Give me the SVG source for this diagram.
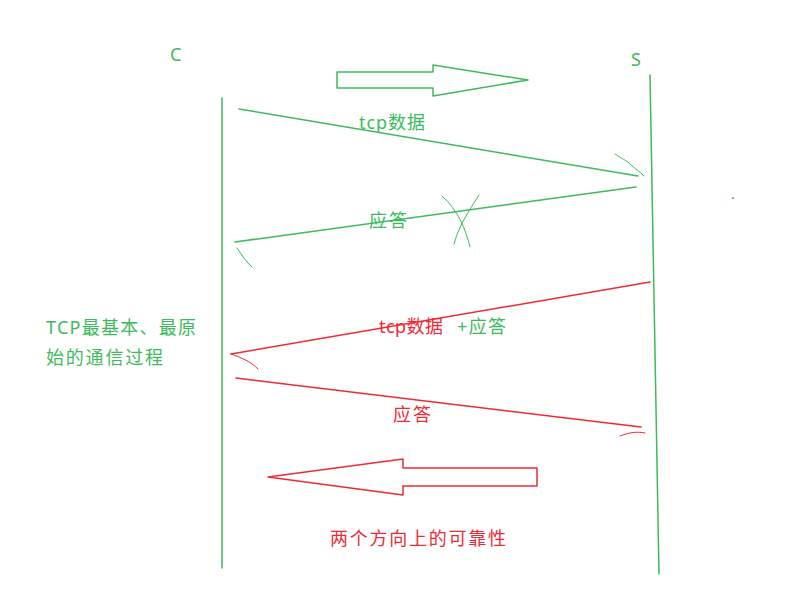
<svg xmlns="http://www.w3.org/2000/svg" width="799" height="614" viewBox="0 0 799 614">
<style>
.g{stroke:#3dba5c;fill:none;stroke-width:1.5;stroke-linecap:round;stroke-linejoin:round}
.r{stroke:#ee2a36;fill:none;stroke-width:1.5;stroke-linecap:round;stroke-linejoin:round}
.gt{fill:#3dba5c;font-family:"Microsoft YaHei","Noto Sans","Noto Sans CJK SC",sans-serif;font-size:18px}
.rt{fill:#ee2a36;font-family:"Microsoft YaHei","Noto Sans","Noto Sans CJK SC",sans-serif;font-size:18px}
.thin{stroke-width:1}
</style>
<rect width="799" height="614" fill="#fff"/>
<g id="node-C">
<text class="gt" x="170" y="61">C</text>
<line class="g" x1="222" y1="98" x2="222" y2="568"/>
</g>
<g id="node-S">
<text class="gt" x="631" y="66">S</text>
<line class="g" x1="650" y1="75" x2="659" y2="574"/>
</g>
<g id="note-left">
<text class="gt" x="46" y="334" textLength="150">TCP最基本、最原</text>
<text class="gt" x="46" y="364" textLength="117">始的通信过程</text>
</g>
<g id="arrow-right">
<polygon class="g" points="337,72 433,72 433,65 528,80 433,96 433,88 337,88"/>
</g>
<g id="arrow-left">
<polygon class="r" points="537,468 403,468 403,459 268,477 403,495 403,486 537,486"/>
<text class="rt" x="330" y="545" textLength="176">两个方向上的可靠性</text>
</g>
<g id="connectors">
<line class="g" x1="239" y1="109" x2="638" y2="176"/>
<path class="g thin" d="M615,154 C622,159 626,160 630,164 C634,168 638,170 644,176"/>
<text class="gt" x="359" y="129" textLength="66">tcp数据</text>
<line class="g" x1="636" y1="187" x2="235" y2="242"/>
<path class="g thin" d="M237,248 C242,255 246,262 252,267"/>
<path class="g thin" d="M442,196 C458,210 466,230 470,247"/>
<path class="g thin" d="M479,195 C468,212 458,228 454,244"/>
<text class="gt" x="369" y="227" textLength="38">应答</text>
<circle cx="733" cy="198" r="1" fill="#3dba5c"/>
<line class="r" x1="650" y1="282" x2="231" y2="354"/>
<path class="r thin" d="M231,354 C242,358 250,361 258,369"/>
<text class="rt" x="379" y="333" textLength="64">tcp数据</text>
<text class="gt" x="457" y="333" textLength="49">+应答</text>
<line class="r" x1="236" y1="378" x2="641" y2="427"/>
<path class="r thin" d="M620,436 C628,433 636,431 645,433"/>
<text class="rt" x="393" y="421" textLength="38">应答</text>
</g>
</svg>
